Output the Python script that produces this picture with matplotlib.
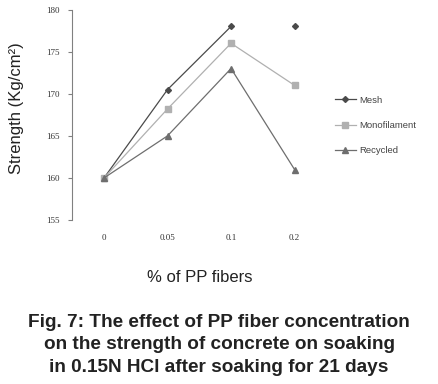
import matplotlib.pyplot as plt
import numpy as np

# data
fiber = ['0', '0.05', '0.1', '0.2']
mesh = [160, 170.5, 178, 178]
mono = [160, 168.2, 176, 171]
recycled = [160, 165, 173, 161]

plt.rcParams['font.family'] = ['Liberation Sans', 'DejaVu Sans']

fig = plt.figure(figsize=(4.38, 3.84), dpi=100)
ax = fig.add_axes([0.165, 0.427, 0.58, 0.548])

x = np.arange(len(fiber))
# mesh: the 0.1 -> 0.2 segment is not drawn in the original
ax.plot(x[:3], mesh[:3], color='#4a4a4a', lw=0.9, marker='D', ms=3, label='Mesh')
ax.plot(x[3:], mesh[3:], color='#4a4a4a', lw=0, marker='D', ms=3)
ax.plot(x, mono, color='#b0b0b0', lw=0.9, marker='s', ms=4.5, label='Monofilament')
ax.plot(x, recycled, color='#6e6e6e', lw=0.9, marker='^', ms=4.5, label='Recycled')

ax.set_xlim(-0.5, 3.5)
ax.set_ylim(155, 180)
ax.set_yticks([155, 160, 165, 170, 175, 180])
ax.set_xticks(x)
ax.set_xticklabels(fiber)
for s in ['top', 'right', 'bottom']:
    ax.spines[s].set_visible(False)
ax.spines['left'].set_color('#808080')
ax.spines['left'].set_linewidth(0.8)
ax.tick_params(axis='y', length=3, color='#808080', labelsize=6.5, pad=6)
ax.tick_params(axis='x', length=0, labelsize=6.5, pad=10)
for t in ax.get_xticklabels() + ax.get_yticklabels():
    t.set_family('Liberation Serif')
    t.set_color('#333333')

ax.set_ylabel('Strength (Kg/cm²)', fontsize=12, color='#222222')
ax.yaxis.set_label_coords(-0.19, 0.53)
ax.set_xlabel('% of PP fibers', fontsize=12, labelpad=20, color='#222222')

leg = ax.legend(loc='center left', bbox_to_anchor=(1.0, 0.45), frameon=False,
                fontsize=6.8, handlelength=2.2, labelspacing=1.7, handletextpad=0.4)
for t in leg.get_texts():
    t.set_color('#444444')

caption = ('Fig. 7: The effect of PP fiber concentration\n'
           'on the strength of concrete on soaking\n'
           'in 0.15N HCl after soaking for 21 days')
fig.text(0.5, 0.102, caption, ha='center', va='center', fontsize=13.7,
         fontweight='bold', linespacing=1.42, color='#222222')

fig.savefig('out.png', dpi=100)
